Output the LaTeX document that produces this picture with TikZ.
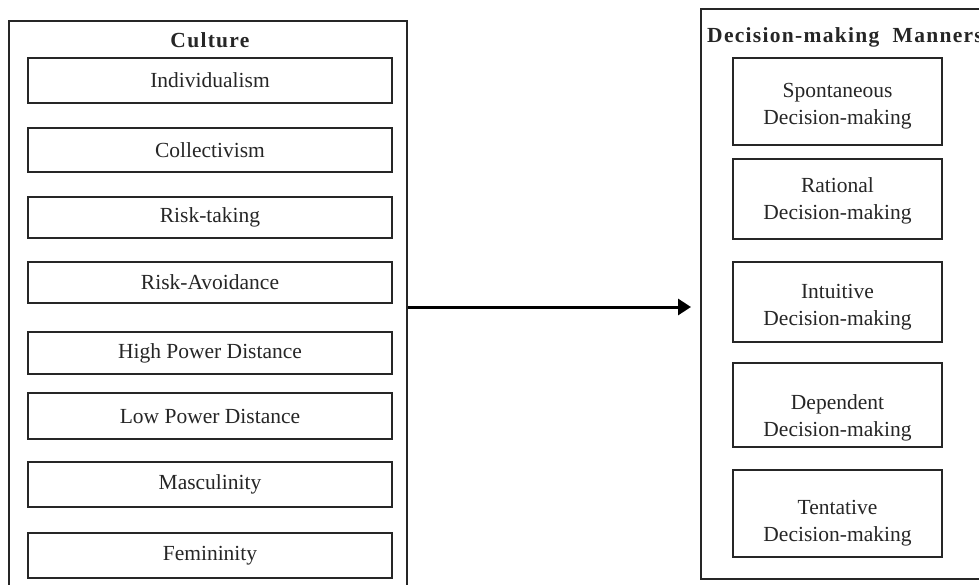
\documentclass[tikz,border=0pt]{standalone}
\usepackage{fontspec}
\setmainfont{Liberation Serif}
\newfontfamily\titlefont[LetterSpace=6]{Liberation Serif}
\usetikzlibrary{arrows.meta}
\tikzset{
  outerbox/.style={draw=black!85, line width=1.6pt, inner sep=0pt},
  itembox/.style={draw=black!85, line width=2.2pt, inner sep=0pt, minimum width=364pt, minimum height=44pt,
    font=\fontsize{21.5}{27}\selectfont, text=black!85},
  dmbox/.style={draw=black!85, line width=2.2pt, inner sep=0pt, minimum width=209pt},
  dmtext/.style={align=center, inner sep=0pt, font=\fontsize{21.5}{27}\selectfont, text=black!85},
  ttl/.style={inner sep=0pt, font=\titlefont\fontsize{21.5}{27}\selectfont\bfseries, text=black!85},
  arr/.style={line width=3pt, -{Triangle[length=13pt,width=16pt]}},
}
\begin{document}
\begin{tikzpicture}[x=1pt,y=-1pt]
\clip (0,0) rectangle (979,585);
\fill[white] (0,0) rectangle (979,585);
% outer containers
\node[outerbox, minimum width=398pt, minimum height=572pt] (culture) at (208,307) {};
\node[outerbox, minimum width=320pt, minimum height=570pt, anchor=north west] (decision) at (700,8) {};
% titles
\node[ttl] (ctitle) at (210,40) {Culture};
\node[ttl, anchor=west] (dtitle) at (707,37) {Decision-making\ \ Manners};
% culture items
\node[itembox, minimum height=45pt] (ind) at (210,80.5) {Individualism};
\node[itembox] (col) at (210,150) {Collectivism};
\node[itembox, minimum height=41pt] (rt) at (210,217.5) {Risk-taking};
\node[itembox, minimum height=41pt] (ra) at (210,282.5) {Risk-Avoidance};
\node[itembox, minimum height=42pt] (hpd) at (210,353) {High Power Distance};
\node[itembox, minimum height=46pt] (lpd) at (210,416) {Low Power Distance};
\node[itembox, minimum height=45pt] (mas) at (210,484.5) {Masculinity};
\node[itembox, minimum height=45pt] (fem) at (210,555.5) {Femininity};
% decision-making items
\node[dmbox, minimum height=87pt] (spo) at (837.5,101.5) {};
\node[dmtext] (spot) at (837.5,106) {Spontaneous\\Decision-making};
\node[dmbox, minimum height=80pt] (rat) at (837.5,199) {};
\node[dmtext] (ratt) at (837.5,201) {Rational\\Decision-making};
\node[dmbox, minimum height=80pt] (int) at (837.5,302) {};
\node[dmtext] (intt) at (837.5,307) {Intuitive\\Decision-making};
\node[dmbox, minimum height=84pt] (dep) at (837.5,405) {};
\node[dmtext] (dept) at (837.5,418) {Dependent\\Decision-making};
\node[dmbox, minimum height=87pt] (ten) at (837.5,513.5) {};
\node[dmtext] (tent) at (837.5,523) {Tentative\\Decision-making};
% connector
\draw[arr] (culture.east) -- ([xshift=-9pt]culture.east -| decision.west);
\end{tikzpicture}
\end{document}
